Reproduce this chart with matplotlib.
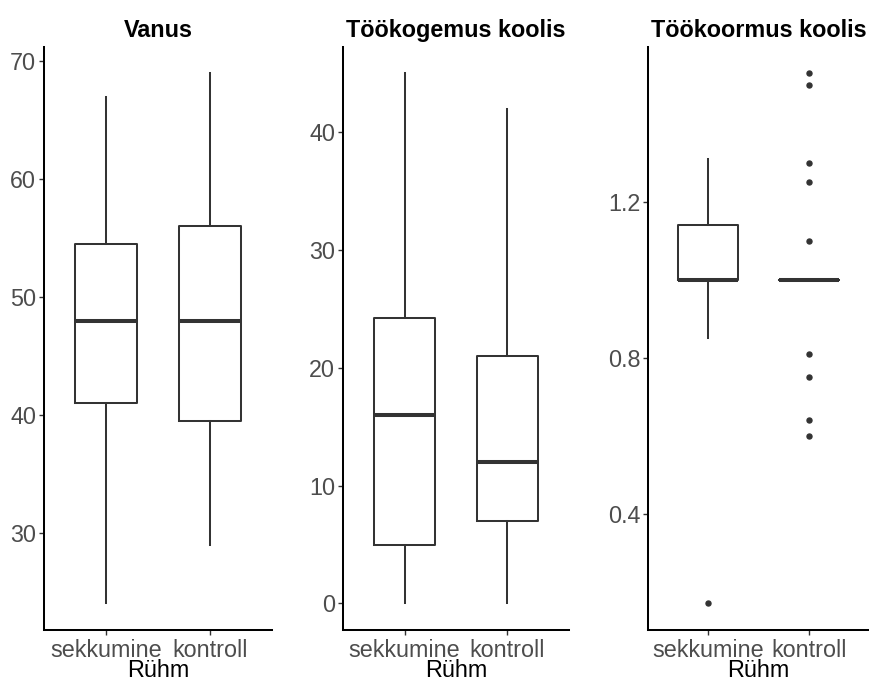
import matplotlib
matplotlib.use("Agg")
import matplotlib.pyplot as plt
from matplotlib.ticker import FixedLocator, FormatStrFormatter

plt.rcParams["font.family"] = ["Liberation Sans", "DejaVu Sans"]

# Groups on the x axis
groups = ["sekkumine", "kontroll"]
x_title = "Rühm"

# Vanus (age)
vanus_titel = "Vanus"
vanus_whislo = [24, 29]
vanus_q1 = [41, 39.5]
vanus_med = [48, 48]
vanus_q3 = [54.5, 56]
vanus_whishi = [67, 69]
vanus_fliers = [[], []]
vanus_ticks = [30, 40, 50, 60, 70]

# Töökogemus koolis (years of experience at school)
kogemus_titel = "Töökogemus koolis"
kogemus_whislo = [0, 0]
kogemus_q1 = [5, 7]
kogemus_med = [16, 12]
kogemus_q3 = [24.2, 21]
kogemus_whishi = [45, 42]
kogemus_fliers = [[], []]
kogemus_ticks = [0, 10, 20, 30, 40]

# Töökoormus koolis (workload at school)
koormus_titel = "Töökoormus koolis"
koormus_whislo = [0.85, 1.0]
koormus_q1 = [1.0, 1.0]
koormus_med = [1.0, 1.0]
koormus_q3 = [1.14, 1.0]
koormus_whishi = [1.31, 1.0]
koormus_fliers = [[0.17], [1.53, 1.5, 1.3, 1.25, 1.1, 0.81, 0.75, 0.64, 0.6]]
koormus_ticks = [0.4, 0.8, 1.2]

panels = [
    (vanus_titel, vanus_whislo, vanus_q1, vanus_med, vanus_q3, vanus_whishi,
     vanus_fliers, vanus_ticks, "%d"),
    (kogemus_titel, kogemus_whislo, kogemus_q1, kogemus_med, kogemus_q3,
     kogemus_whishi, kogemus_fliers, kogemus_ticks, "%d"),
    (koormus_titel, koormus_whislo, koormus_q1, koormus_med, koormus_q3,
     koormus_whishi, koormus_fliers, koormus_ticks, "%.1f"),
]

W, H = 869, 682
fig = plt.figure(figsize=(W / 100, H / 100), dpi=100)

# axes boxes in pixels: left, right
boxes_px = [(44, 272), (343, 569), (648, 869)]
top_px, bottom_px = 46.7, 630

FS = 16.8
DARK = "#333333"
TICKTXT = "#4D4D4D"

for (left, right), (titel, wl, q1, med, q3, wh, fl, ticks, fmt) in zip(boxes_px, panels):
    ax = fig.add_axes([left / W, 1 - bottom_px / H, (right - left) / W,
                       (bottom_px - top_px) / H])
    stats = []
    for i in range(len(groups)):
        stats.append(dict(med=med[i], q1=q1[i], q3=q3[i], whislo=wl[i],
                          whishi=wh[i], fliers=fl[i], label=groups[i]))
    ax.bxp(stats, positions=[1, 2], widths=0.6, showcaps=False,
           boxprops=dict(color=DARK, linewidth=1.45),
           whiskerprops=dict(color=DARK, linewidth=1.45),
           medianprops=dict(color=DARK, linewidth=2.9, solid_capstyle="butt"),
           flierprops=dict(marker="o", markerfacecolor=DARK,
                           markeredgecolor=DARK, markersize=3.6))
    # ggplot-style 5% expansion on y, 0.6 units on the discrete x axis
    lo = min(min(wl), min(min(f) if f else wl[0] for f in fl))
    hi = max(max(wh), max(max(f) if f else wh[0] for f in fl))
    pad = (hi - lo) * 0.05
    ax.set_ylim(lo - pad, hi + pad)
    ax.set_xlim(0.4, 2.6)
    ax.yaxis.set_major_locator(FixedLocator(ticks))
    ax.yaxis.set_major_formatter(FormatStrFormatter(fmt))
    ax.set_xticks([1, 2])
    ax.set_xticklabels(groups)
    for s in ("top", "right"):
        ax.spines[s].set_visible(False)
    for s in ("left", "bottom"):
        ax.spines[s].set_color("black")
        ax.spines[s].set_linewidth(1.45)
    ax.tick_params(axis="both", length=3.5, width=1.0, color=DARK,
                   labelcolor=TICKTXT, labelsize=FS, pad=2)
    ax.tick_params(axis="x", pad=3)
    ax.set_xlabel(x_title, fontsize=FS, color="black", labelpad=-2.5)
    ax.set_title(titel, fontsize=FS, fontweight="bold", pad=7)

fig.savefig("out.png", dpi=100, facecolor="white")
